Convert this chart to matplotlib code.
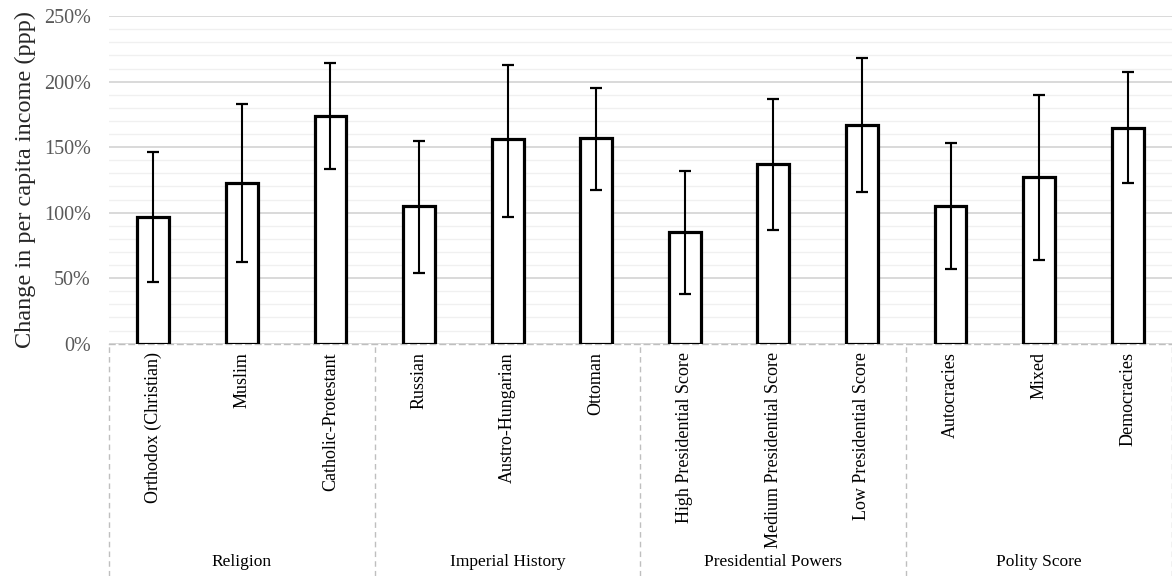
import matplotlib.pyplot as plt
import matplotlib.transforms as mtransforms
from matplotlib.ticker import MultipleLocator, FuncFormatter

plt.rcParams['font.family'] = ['Liberation Serif', 'DejaVu Serif']

# data (percent change)
categories = ['Orthodox (Christian)', 'Muslim', 'Catholic-Protestant',
              'Russian', 'Austro-Hungarian', 'Ottoman',
              'High Presidential Score', 'Medium Presidential Score', 'Low Presidential Score',
              'Autocracies', 'Mixed', 'Democracies']
values = [97, 123, 174, 105, 156, 157, 85, 137, 167, 105, 127, 165]
err_low = [50, 61, 41, 51, 59, 40, 47, 50, 51, 48, 63, 42]
err_high = [49, 60, 40, 50, 57, 38, 47, 50, 51, 48, 63, 42]
groups = ['Religion', 'Imperial History', 'Presidential Powers', 'Polity Score']
group_size = 3

fig = plt.figure(figsize=(11.72, 5.76), dpi=100)
ax = fig.add_axes([0.093, 0.4033, 0.907, 0.5687])

x = list(range(len(categories)))
ax.bar(x, values, width=0.36, facecolor='white', edgecolor='black', linewidth=2.3, zorder=3)
ax.errorbar(x, values, yerr=[err_low, err_high], fmt='none', ecolor='black',
            elinewidth=1.5, capsize=4, capthick=1.6, zorder=4)

ax.set_xlim(-0.5, len(categories) - 0.5)
ax.set_ylim(0, 250)
ax.yaxis.set_major_locator(MultipleLocator(50))
ax.yaxis.set_minor_locator(MultipleLocator(10))
ax.yaxis.set_major_formatter(FuncFormatter(lambda v, p: '{:.0f}%'.format(v)))
ax.grid(axis='y', which='major', color='#d9d9d9', linewidth=1.4, zorder=0)
ax.grid(axis='y', which='minor', color='#f0f0f0', linewidth=1.0, zorder=0)
ax.tick_params(axis='y', which='both', length=0, labelsize=14.5, pad=13, colors='#595959')

for s in ['left', 'right', 'top']:
    ax.spines[s].set_visible(False)
ax.spines['bottom'].set_color('#bfbfbf')
ax.spines['bottom'].set_linestyle((0, (4, 3)))
ax.spines['bottom'].set_linewidth(1.0)

ax.set_xticks(x)
ax.set_xticklabels(categories, rotation=90, fontsize=13, va='top')
ax.tick_params(axis='x', length=0, pad=6)

ax.set_ylabel('Change in per capita income (ppp)', fontsize=17.5, labelpad=6, color='#262626')

# group separators and group names below the axis
trans = mtransforms.blended_transform_factory(ax.transData, fig.transFigure)
for b in range(len(groups) + 1):
    xb = b * group_size - 0.5
    ax.plot([xb, xb], [0, 0.4033], transform=trans, color='#bfbfbf',
            linestyle=(0, (4, 3)), linewidth=1.0, clip_on=False)
for i, g in enumerate(groups):
    ax.text(i * group_size + 1, 0.024, g, transform=trans, ha='center',
            va='center', fontsize=12.5)

fig.savefig('out.png', dpi=100)
